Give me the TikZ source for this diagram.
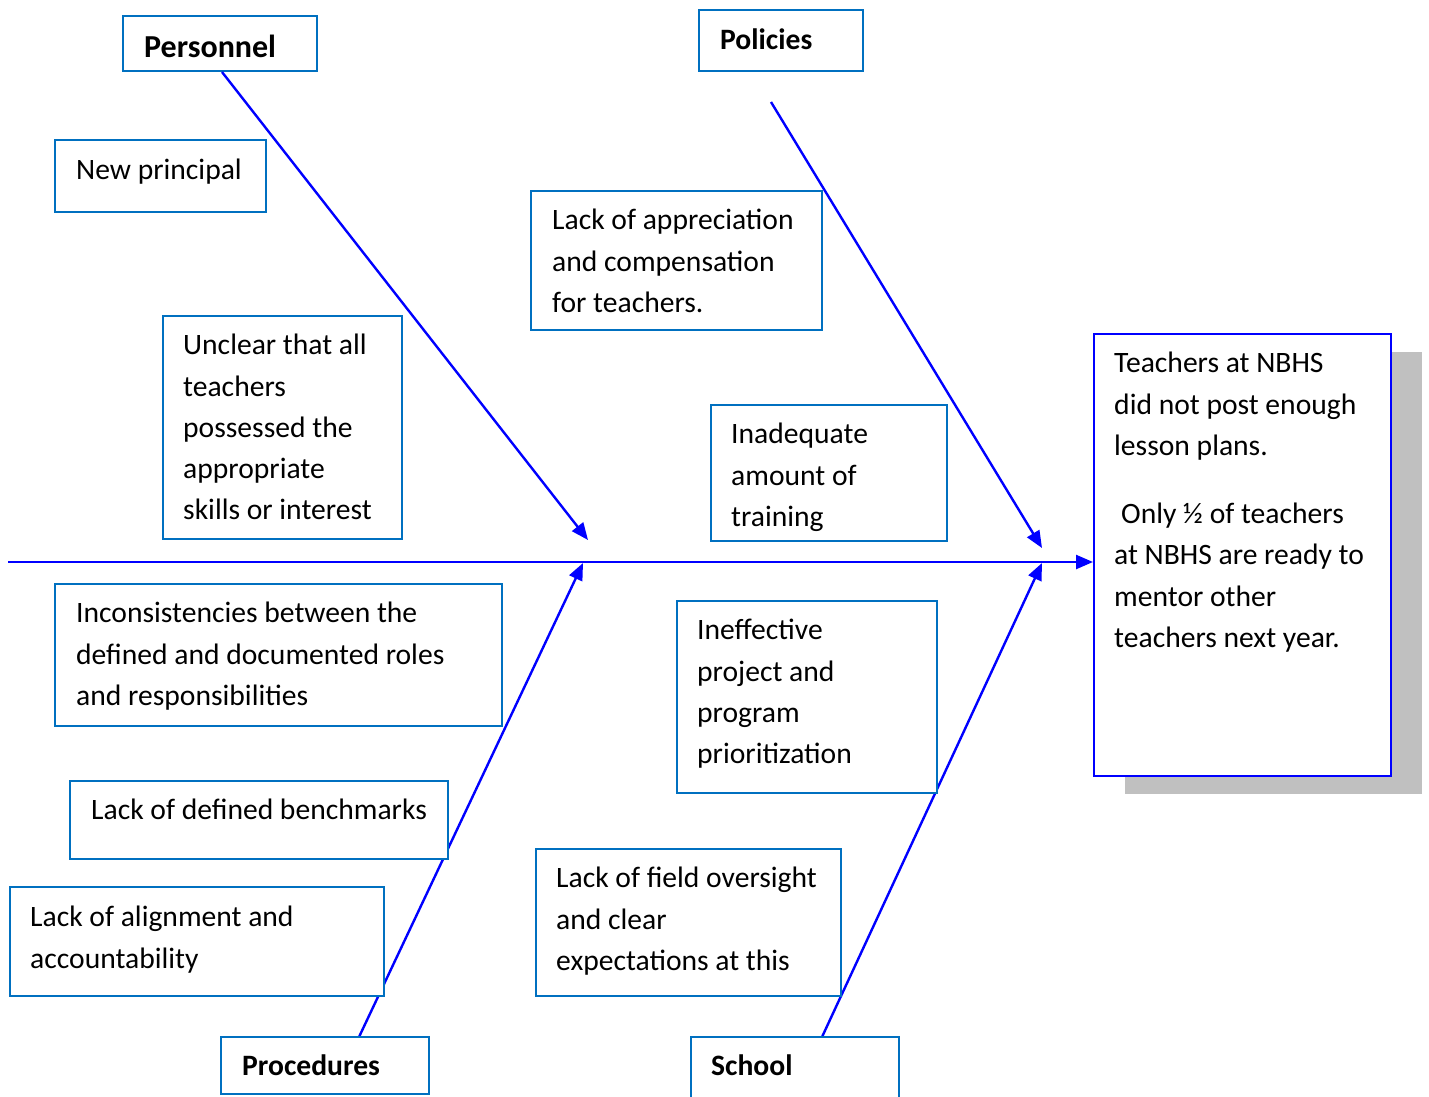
\documentclass[tikz,border=0pt]{standalone}
\usepackage{fontspec}
\setmainfont{Carlito}
\usetikzlibrary{arrows.meta}
\definecolor{boxblue}{RGB}{0,112,192}
\definecolor{bone}{RGB}{0,0,255}
\definecolor{shadowgray}{RGB}{192,192,192}
\newcommand\bodyfont{\fontsize{29.6}{41.3}\selectfont}
\newcommand\headfont{\fontsize{29.6}{41.3}\selectfont\bfseries}
\newcommand\bigheadfont{\fontsize{32}{41.3}\selectfont\bfseries}
\newcommand\firstline{\rule{0pt}{25.5pt}}
\tikzset{
  causebox/.style={draw=boxblue, line width=2pt, fill=white, anchor=north west, inner sep=0pt},
  effectbox/.style={draw=bone, line width=2pt, fill=white, anchor=north west, inner sep=0pt},
  txt/.style={anchor=north west, inner sep=0pt, align=left, font=\bodyfont},
  bonearrow/.style={draw=bone, line width=2.4pt, -{Triangle[length=17pt,width=14pt]}},
}
\begin{document}
\begin{tikzpicture}[x=1pt,y=-1pt]
\useasboundingbox (0,0) rectangle (1429,1096);

% effect box with its shadow
\fill[shadowgray] (1125,352) rectangle (1422,794);
\node[effectbox, minimum width=297pt, minimum height=442pt] (effect) at (1093,333) {};
\node[txt] (effecttxt) at (1114,347) {\firstline Teachers at NBHS\\did not post enough\\lesson plans.\\[27pt]\hspace{7pt}Only ½ of teachers\\at NBHS are ready to\\mentor other\\teachers next year.};

% spine and bone endpoints
\coordinate (tail) at (8,562);
\coordinate (head) at (1093,562);
\coordinate (persend) at (588,540);
\coordinate (polend) at (1042,548);
\coordinate (procend) at (583,563);
\coordinate (schend) at (1042,563);
\coordinate (polstart) at (771,102);

\draw[bonearrow] (tail) -- (head);

% category boxes
\node[causebox, minimum width=194pt, minimum height=55pt] (pers) at (122,15) {};
\node[anchor=base west, inner sep=0pt, font=\bigheadfont] (perstxt) at (144,57) {Personnel};
\node[causebox, minimum width=164pt, minimum height=61pt] (pol) at (698,9) {};
\node[anchor=base west, inner sep=0pt, font=\headfont] (poltxt) at (720,49) {Policies};

% bones
\draw[bonearrow] (pers.south) ++(2,0) coordinate (persstart) -- (persend);
\draw[bonearrow] (polstart) -- (polend);
\coordinate (procstart) at (359,1037);
\coordinate (schstart) at (822,1037);
\draw[bonearrow] (procstart) -- (procend);
\draw[bonearrow] (schstart) -- (schend);

% cause boxes above the spine
\node[causebox, minimum width=211pt, minimum height=72pt] (newp) at (54,139) {};
\node[txt] (newptxt) at (76,154) {\firstline New principal};

\node[causebox, minimum width=291pt, minimum height=139pt] (appr) at (530,190) {};
\node[txt] (apprtxt) at (552,204) {\firstline Lack of appreciation\\and compensation\\for teachers.};

\node[causebox, minimum width=239pt, minimum height=223pt] (uncl) at (162,315) {};
\node[txt] (uncltxt) at (183,329) {\firstline Unclear that all\\teachers\\possessed the\\appropriate\\skills or interest};

\node[causebox, minimum width=236pt, minimum height=136pt] (train) at (710,404) {};
\node[txt] (traintxt) at (731,418) {\firstline Inadequate\\amount of\\training};

% cause boxes below the spine
\node[causebox, minimum width=447pt, minimum height=142pt] (incon) at (54,583) {};
\node[txt] (incontxt) at (76,597) {\firstline Inconsistencies between the\\defined and documented roles\\and responsibilities};

\node[causebox, minimum width=260pt, minimum height=192pt] (ineff) at (676,600) {};
\node[txt] (inefftxt) at (697,614) {\firstline Ineffective\\project and\\program\\prioritization};

\node[causebox, minimum width=378pt, minimum height=78pt] (bench) at (69,780) {};
\node[txt] (benchtxt) at (91,794) {\firstline Lack of defined benchmarks};

\node[causebox, minimum width=305pt, minimum height=147pt] (field) at (535,848) {};
\node[txt] (fieldtxt) at (556,862) {\firstline Lack of field oversight\\and clear\\expectations at this};

\node[causebox, minimum width=374pt, minimum height=109pt] (align) at (9,886) {};
\node[txt] (aligntxt) at (30,901) {\firstline Lack of alignment and\\accountability};

% bottom category boxes
\node[causebox, minimum width=208pt, minimum height=57pt] (proc) at (220,1036) {};
\node[anchor=base west, inner sep=0pt, font=\headfont] (proctxt) at (242,1075) {Procedures};
\node[causebox, minimum width=208pt, minimum height=70pt] (sch) at (690,1036) {};
\node[anchor=base west, inner sep=0pt, font=\headfont] (schtxt) at (711,1075) {School};
\end{tikzpicture}
\end{document}
